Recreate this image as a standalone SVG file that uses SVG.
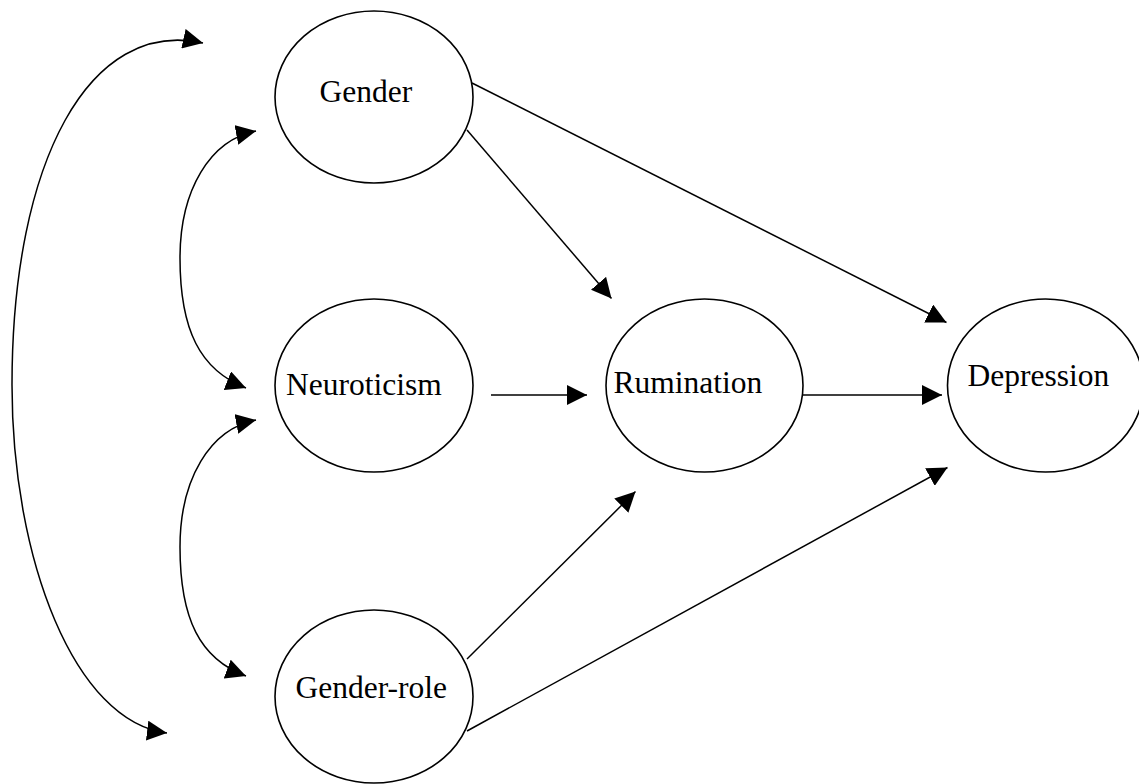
<svg xmlns="http://www.w3.org/2000/svg" width="1139" height="784" viewBox="0 0 1139 784">
  <style>
    .node ellipse { fill: #ffffff; stroke: #000000; stroke-width: 1.6; }
    .node text { font-family: "Liberation Serif", "Times New Roman", serif; font-size: 31.5px; fill: #000000; }
    .edge { fill: none; stroke: #000000; stroke-width: 1.5; }
  </style>
  <defs>
    <marker id="arrow" markerUnits="userSpaceOnUse" markerWidth="20" markerHeight="20" refX="20" refY="10" orient="auto-start-reverse" viewBox="0 0 20 20">
      <path d="M0,0 L20,10 L0,20 z" fill="#000000"/>
    </marker>
  </defs>
  <rect width="1139" height="784" fill="#ffffff"/>

  <g id="connectors">
    <path class="edge" d="M203,43 C90,18 12,160 12,385 C12,560 75,722 167,733" marker-start="url(#arrow)" marker-end="url(#arrow)"/>
    <path class="edge" d="M256,131 C210,140 180,190 180,258 C180,330 200,370 246,388" marker-start="url(#arrow)" marker-end="url(#arrow)"/>
    <path class="edge" d="M256,420 C210,429 180,479 180,547 C180,619 200,659 246,676" marker-start="url(#arrow)" marker-end="url(#arrow)"/>
    <line class="edge" x1="467" y1="130" x2="611.5" y2="298.5" marker-end="url(#arrow)"/>
    <line class="edge" x1="472" y1="83" x2="946.5" y2="322.5" marker-end="url(#arrow)"/>
    <line class="edge" x1="467" y1="659" x2="635.5" y2="491.5" marker-end="url(#arrow)"/>
    <line class="edge" x1="467" y1="731" x2="947.5" y2="467.5" marker-end="url(#arrow)"/>
    <line class="edge" x1="491" y1="395" x2="587" y2="395" marker-end="url(#arrow)"/>
    <line class="edge" x1="803" y1="395" x2="942" y2="395" marker-end="url(#arrow)"/>
  </g>

  <g id="node-gender" class="node">
    <ellipse cx="374" cy="97" rx="99" ry="86"/>
    <text x="319.5" y="102">Gender</text>
  </g>
  <g id="node-neuroticism" class="node">
    <ellipse cx="374" cy="385.5" rx="99" ry="86.5"/>
    <text x="286" y="394.5">Neuroticism</text>
  </g>
  <g id="node-gender-role" class="node">
    <ellipse cx="374" cy="696.5" rx="99" ry="86.5"/>
    <text x="295.5" y="698">Gender-role</text>
  </g>
  <g id="node-rumination" class="node">
    <ellipse cx="704.5" cy="385.5" rx="98.5" ry="86.5"/>
    <text x="613.5" y="393">Rumination</text>
  </g>
  <g id="node-depression" class="node">
    <ellipse cx="1045.5" cy="385.5" rx="98" ry="86.5"/>
    <text x="967.5" y="386">Depression</text>
  </g>
</svg>
